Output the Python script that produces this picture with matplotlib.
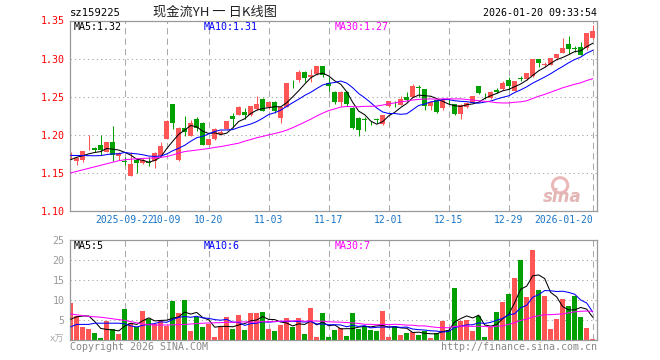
import numpy as np
import pandas as pd
import matplotlib
matplotlib.use("Agg")
import matplotlib.pyplot as plt

# ---------------- data ----------------
opens = [1.172, 1.166, 1.1665, 1.181, 1.183, 1.186, 1.178, 1.1905, 1.1717, 1.1655,
         1.1465, 1.1674, 1.163, 1.1645, 1.165, 1.172, 1.195, 1.2405, 1.1674, 1.2087,
         1.199, 1.221, 1.216, 1.187, 1.1944, 1.2005, 1.2078, 1.2248, 1.226, 1.2305,
         1.2261, 1.2335, 1.2466, 1.237, 1.243, 1.222, 1.237, 1.2708, 1.2718, 1.2828,
         1.276, 1.2792, 1.29, 1.2675, 1.2566, 1.2427, 1.2566, 1.2356, 1.2218, 1.2200,
         1.2157, 1.2200, 1.2144, 1.238, 1.2430, 1.2392, 1.2492, 1.2493, 1.2625, 1.260,
         1.2378, 1.2457, 1.2348, 1.2447, 1.240, 1.227, 1.2362, 1.2423, 1.264, 1.2525,
         1.248, 1.2585, 1.260, 1.2718, 1.2578, 1.2743, 1.2727, 1.277, 1.2990, 1.2920,
         1.2918, 1.3003, 1.3075, 1.3188, 1.3135, 1.3158, 1.314, 1.327]
highs = [1.178, 1.171, 1.179, 1.1995, 1.184, 1.200, 1.1905, 1.212, 1.177, 1.1705,
         1.1774, 1.168, 1.170, 1.171, 1.177, 1.190, 1.220, 1.241, 1.210, 1.2245,
         1.219, 1.224, 1.217, 1.195, 1.209, 1.2065, 1.2185, 1.228, 1.238, 1.2355,
         1.238, 1.251, 1.2485, 1.2435, 1.2445, 1.238, 1.268, 1.272, 1.285, 1.284,
         1.2862, 1.290, 1.2905, 1.276, 1.258, 1.257, 1.257, 1.236, 1.223, 1.224,
         1.218, 1.2225, 1.2265, 1.2445, 1.244, 1.2513, 1.2566, 1.2666, 1.2653, 1.2605,
         1.2445, 1.246, 1.246, 1.2465, 1.2405, 1.240, 1.2425, 1.2515, 1.2645, 1.2545,
         1.2575, 1.262, 1.270, 1.276, 1.2705, 1.277, 1.2814, 1.2995, 1.2995, 1.296,
         1.3005, 1.3065, 1.3265, 1.3297, 1.317, 1.322, 1.3336, 1.3436]
lows = [1.168, 1.160, 1.164, 1.180, 1.178, 1.173, 1.1775, 1.166, 1.1675, 1.160,
        1.1455, 1.150, 1.162, 1.1595, 1.1565, 1.171, 1.194, 1.208, 1.166, 1.199,
        1.198, 1.205, 1.186, 1.186, 1.193, 1.1995, 1.207, 1.209, 1.2255, 1.2205,
        1.2245, 1.232, 1.231, 1.234, 1.228, 1.2153, 1.236, 1.261, 1.2688, 1.2696,
        1.2688, 1.279, 1.2765, 1.2574, 1.240, 1.2383, 1.2375, 1.207, 1.199, 1.205,
        1.213, 1.2155, 1.2135, 1.2365, 1.2365, 1.2385, 1.2445, 1.249, 1.250, 1.2327,
        1.2327, 1.229, 1.2327, 1.241, 1.226, 1.2205, 1.235, 1.2415, 1.2535, 1.2475,
        1.247, 1.2545, 1.259, 1.2588, 1.257, 1.271, 1.272, 1.276, 1.2892, 1.289,
        1.291, 1.298, 1.307, 1.306, 1.3085, 1.3045, 1.3115, 1.326]
closes = [1.174, 1.170, 1.179, 1.1815, 1.1795, 1.180, 1.1905, 1.174, 1.176, 1.1645,
          1.162, 1.163, 1.1675, 1.1635, 1.1755, 1.1847, 1.218, 1.216, 1.2087, 1.2035,
          1.215, 1.209, 1.187, 1.1944, 1.2078, 1.2035, 1.2183, 1.221, 1.237, 1.2255,
          1.2378, 1.2405, 1.2317, 1.2427, 1.2317, 1.237, 1.2675, 1.2702, 1.2828, 1.275,
          1.2783, 1.290, 1.2785, 1.2644, 1.2427, 1.2566, 1.240, 1.2095, 1.2065, 1.2193,
          1.2150, 1.2193, 1.2261, 1.2445, 1.2425, 1.2466, 1.2457, 1.264, 1.262, 1.238,
          1.2435, 1.2304, 1.2457, 1.2440, 1.227, 1.2392, 1.2414, 1.251, 1.2552, 1.252,
          1.2566, 1.2565, 1.2685, 1.264, 1.2705, 1.2738, 1.2814, 1.2995, 1.2948, 1.2925,
          1.3003, 1.3063, 1.3134, 1.3132, 1.3128, 1.305, 1.3336, 1.3357]
volumes = [9.3, 6.0, 3.3, 2.75, 1.8, 0.6, 4.8, 2.7, 1.5, 7.75,
           4.2, 3.3, 7.25, 5.2, 3.9, 4.8, 3.6, 9.75, 6.8, 10.0,
           2.25, 5.7, 3.3, 4.0, 0.75, 3.3, 5.7, 2.75, 6.25, 2.5,
           6.75, 6.75, 7.0, 2.75, 2.25, 3.75, 5.5, 3.3, 5.4, 1.5,
           8.0, 0.75, 6.75, 0.8, 2.5, 3.1, 1.0, 6.8, 2.8, 3.3,
           2.5, 2.25, 7.25, 0.8, 3.6, 1.25, 1.8, 1.9, 1.25, 2.25,
           0.6, 1.7, 4.8, 2.5, 13.0, 4.8, 5.0, 2.25, 6.0, 0.75,
           3.3, 7.0, 9.5, 11.5, 15.5, 20.0, 10.8, 22.5, 12.5, 11.0,
           2.7, 5.2, 10.25, 8.5, 11.0, 5.75, 3.1, 0.25]

# moving-average values of the first sessions (their windows start before the chart)
ma5_head = [1.1674, 1.1705, 1.1725, 1.1750]
ma10_head = [1.1730, 1.1728, 1.1727, 1.1726, 1.1725, 1.1727, 1.1740, 1.1750, 1.1750]
ma30_head = [1.1500, 1.1520, 1.1540, 1.1560, 1.1580, 1.1600, 1.1620, 1.1640, 1.1660, 1.1672,
             1.1680, 1.1685, 1.1690, 1.1693, 1.1697, 1.1705, 1.1715, 1.1735, 1.1760, 1.1780,
             1.1790, 1.1800, 1.1810, 1.1820, 1.1835, 1.1845, 1.1860, 1.1875, 1.1890]
vma5_head = [5.2, 5.8, 6.0, 6.0]
vma10_head = [3.3, 3.9, 3.9, 3.9, 4.2, 4.2, 4.2, 4.2, 4.2]
vma30_head = [6.5, 6.3, 6.1, 5.9, 5.8, 5.7, 5.5, 5.3, 5.1, 4.9,
              4.6, 4.3, 4.0, 3.8, 3.75, 3.75, 3.75, 3.8, 3.85, 3.9,
              4.0, 4.1, 4.2, 4.25, 4.3, 4.35, 4.4, 4.45, 4.5]

date_ticks = [9, 16, 23, 33, 43, 53, 63, 73, 87]
date_labels = ["2025-09-22", "10-09", "10-20", "11-03", "11-17", "12-01", "12-15", "12-29", "2026-01-20"]
price_ticks = [1.10, 1.15, 1.20, 1.25, 1.30, 1.35]
vol_ticks = [5, 10, 15, 20, 25]
vol_unit = "x万"
code = "sz159225"
title = "现金流YH 一 日K线图"
stamp = "2026-01-20 09:33:54"
price_ma_labels = ["MA5:1.32", "MA10:1.31", "MA30:1.27"]
vol_ma_labels = ["MA5:5", "MA10:6", "MA30:7"]


def moving(values, n, head):
    s = pd.Series(values, dtype=float).rolling(n).mean().to_numpy()
    s[:len(head)] = head
    return s


# ---------------- styling ----------------
RED = "#FF5555"
GREEN = "#00A000"
GRID = "#AAAAAA"
FRAME = "#999999"
MONO = "DejaVu Sans Mono"
W, H = 660, 360
LW = 0.75

plt.rcParams["font.family"] = ["DejaVu Sans Mono", "Noto Sans CJK SC"]
fig = plt.figure(figsize=(W / 100, H / 100), dpi=100)
fig.patch.set_facecolor("white")


def px_axes(left, top, right, bottom):
    return fig.add_axes([left / W, 1 - bottom / H, (right - left) / W, (bottom - top) / H])


ax = px_axes(70, 20.5, 597, 211)
axv = px_axes(70, 240, 597, 340)

n = len(closes)
x = np.arange(n)
o = np.array(opens); c = np.array(closes); h = np.array(highs); l = np.array(lows)
up = c >= o
colors = np.where(up, RED, GREEN)

xlim = (-0.12, 87.72)

for a in (ax, axv):
    a.set_xlim(*xlim)
    for s in a.spines.values():
        s.set_color(FRAME)
        s.set_linewidth(0.9)
    a.tick_params(length=0)
    for t in date_ticks:
        a.axvline(t, color=GRID, lw=LW, ls=(0, (6, 4)), zorder=0)

# price panel
ax.set_ylim(1.10, 1.35)
for yv in price_ticks[1:-1]:
    ax.axhline(yv, color=GRID, lw=LW, ls=(0, (1.2, 3)), zorder=0)

# sina watermark (behind the data)
ax.scatter([0.93], [0.135], s=120, marker="o", facecolors="none", edgecolors="#EBB8B8",
           linewidths=2.2, transform=ax.transAxes, zorder=1)
ax.text(0.97, 0.075, "sina", transform=ax.transAxes, fontsize=12, family="DejaVu Sans",
        fontweight="bold", fontstyle="italic", ha="right", va="center", color="#E3B5B5", zorder=1)

ax.vlines(x, l, h, colors=colors, lw=LW, zorder=2)
body = np.maximum(np.abs(c - o), 0.0008)
ax.bar(x, body, bottom=np.minimum(o, c), width=0.8, color=colors, lw=0, zorder=3)

ma5 = moving(closes, 5, ma5_head)
ma10 = moving(closes, 10, ma10_head)
ma30 = moving(closes, 30, ma30_head)
ax.plot(x, ma5, color="black", lw=LW, zorder=4)
ax.plot(x, ma10, color="#0000FF", lw=LW, zorder=4)
ax.plot(x, ma30, color="#FF00FF", lw=LW, zorder=4)

ax.set_yticks(price_ticks)
ax.set_yticklabels([f"{v:.2f}" for v in price_ticks], color="#FF0000", fontsize=7.2, family=MONO)
ax.tick_params(axis="y", pad=4)
ax.set_xticks(date_ticks)
ax.set_xticklabels(date_labels, color="#1A75C8", fontsize=7.0, family=MONO)
ax.tick_params(axis="x", pad=3)
xt = ax.get_xticklabels()
xt[-1].set_horizontalalignment("right")
xt[-1].set_x(date_ticks[-1] + 0.3)

# volume panel
axv.set_ylim(0, 25)
for yv in vol_ticks[:-1]:
    axv.axhline(yv, color=GRID, lw=LW, ls=(0, (1.2, 3)), zorder=0)
axv.bar(x, volumes, width=0.8, color=colors, lw=0, zorder=2)
vma5 = moving(volumes, 5, vma5_head)
vma10 = moving(volumes, 10, vma10_head)
vma30 = moving(volumes, 30, vma30_head)
axv.plot(x, vma5, color="black", lw=LW, zorder=4)
axv.plot(x, vma10, color="#0000FF", lw=LW, zorder=4)
axv.plot(x, vma30, color="#FF00FF", lw=LW, zorder=4)
axv.set_yticks(vol_ticks)
axv.set_yticklabels([str(v) for v in vol_ticks], color="#999999", fontsize=7.2, family=MONO)
axv.tick_params(axis="y", pad=4)
axv.set_xticks([])

# texts
def ftext(px, py, s, **kw):
    fig.text(px / W, 1 - py / H, s, **kw)

ftext(70, 12.5, code, fontsize=7.6, family=MONO, va="center", ha="left", color="black")
ftext(215, 12.5, title, fontsize=9.5, family=["Noto Sans CJK SC", "DejaVu Sans"], va="center", ha="center", color="#222222")
ftext(597, 12.5, stamp, fontsize=7.2, family=MONO, va="center", ha="right", color="black")
for xpos, s, col in zip([74, 204, 334.5], price_ma_labels, ["black", "#0000FF", "#FF00FF"]):
    ftext(xpos, 26.5, s, fontsize=7.2, family=MONO, va="center", ha="left", color=col)
for xpos, s, col in zip([74, 204, 334.5], vol_ma_labels, ["black", "#0000FF", "#FF00FF"]):
    ftext(xpos, 246, s, fontsize=7.2, family=MONO, va="center", ha="left", color=col)
ftext(64, 339, vol_unit, fontsize=6.5, family=["DejaVu Sans", "Noto Sans CJK SC"], va="center", ha="right", color="#AAAAAA")
ftext(70, 347, "Copyright 2026 SINA.COM", fontsize=7.2, family=MONO, va="center", ha="left", color="#888888")
ftext(597, 347, "http://finance.sina.com.cn", fontsize=7.2, family=MONO, va="center", ha="right", color="#888888")

fig.savefig("out.png", dpi=100, facecolor="white")
